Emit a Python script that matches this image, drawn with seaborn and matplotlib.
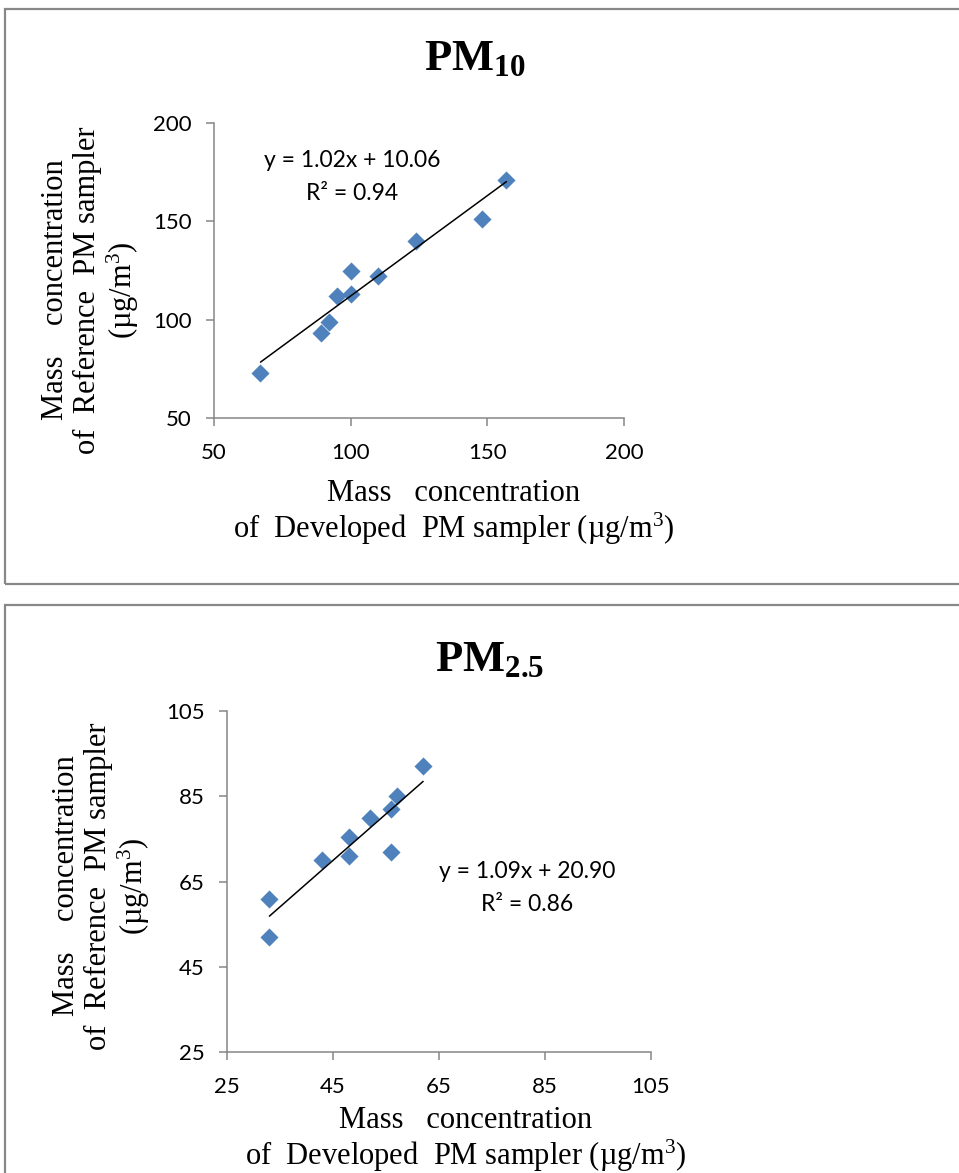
import matplotlib
matplotlib.use("Agg")
import matplotlib.pyplot as plt
from matplotlib.patches import Rectangle
import pandas as pd
import seaborn as sns

# PM10: developed sampler vs reference sampler (ug/m3)
pm10_developed = [67, 89, 92, 95, 100, 100, 110, 124, 148, 157]
pm10_reference = [73, 93, 99, 112, 113, 125, 122, 140, 151, 171]
pm10_slope, pm10_intercept, pm10_r2 = 1.02, 10.06, 0.94
pm10_ticks = [50, 100, 150, 200]

# PM2.5: developed sampler vs reference sampler (ug/m3)
pm25_developed = [33, 33, 43, 48, 48, 52, 56, 57, 56, 62]
pm25_reference = [61, 52, 70, 75.4, 71, 80, 82, 85, 72, 92]
pm25_slope, pm25_intercept, pm25_r2 = 1.09, 20.90, 0.86
pm25_ticks = [25, 45, 65, 85, 105]

W, H = 959, 1173
BLUE = "#4F81BD"
GREY = "#868686"
SERIF = "Liberation Serif"
SANS = "Lato"


def fx(x):
    return x / W


def fy(y):
    return 1 - y / H


def draw_panel(fig, box, developed, reference, slope, intercept, r2, ticks,
               title, title_xy, eq_xy, ylab_xy, xlab_xy):
    left, top, right, bottom = box
    ax = fig.add_axes([fx(left), fy(bottom), (right - left) / W, (bottom - top) / H])

    df = pd.DataFrame({"Developed": developed, "Reference": reference})
    sns.scatterplot(data=df, x="Developed", y="Reference", marker="D", s=85,
                    color=BLUE, linewidth=0, ax=ax, zorder=3)

    # linear trend line over the range of the data
    xs = [min(developed), max(developed)]
    ax.plot(xs, [slope * x + intercept for x in xs], color="black", lw=1.1, zorder=4)

    ax.set_xlim(ticks[0], ticks[-1])
    ax.set_ylim(ticks[0], ticks[-1])
    ax.set_xticks(ticks)
    ax.set_yticks(ticks)
    ax.set_xlabel("")
    ax.set_ylabel("")
    ax.grid(False)
    for side in ["top", "right"]:
        ax.spines[side].set_visible(False)
    for side in ["left", "bottom"]:
        ax.spines[side].set_color(GREY)
        ax.spines[side].set_linewidth(1.1)
    ax.tick_params(axis="both", direction="out", length=6, width=1.1, color=GREY,
                   labelsize=16, labelcolor="black", bottom=True, left=True)
    ax.tick_params(axis="y", pad=10)
    ax.tick_params(axis="x", pad=12)
    for lab in ax.get_xticklabels() + ax.get_yticklabels():
        lab.set_fontfamily(SANS)

    # equation of the trend line
    fig.text(fx(eq_xy[0]), fy(eq_xy[1]),
             f"y = {slope:.2f}x + {intercept:.2f}\nR\u00b2 = {r2:.2f}",
             ha="center", va="center", multialignment="center",
             fontsize=16.5, family=SANS, linespacing=1.7, color="black")

    fig.text(fx(title_xy[0]), fy(title_xy[1]), title, ha="center", va="baseline",
             fontsize=32, color="black")

    fig.text(fx(ylab_xy[0]), fy(ylab_xy[1]),
             "Mass    concentration\nof  Reference  PM sampler\n(\u00b5g/m$^{3}$)",
             rotation=90, ha="center", va="center", multialignment="center",
             fontsize=22, family=SERIF, linespacing=1.12, color="black")

    fig.text(fx(xlab_xy[0]), fy(xlab_xy[1]),
             "Mass   concentration\nof  Developed  PM sampler (\u00b5g/m$^{3}$)",
             ha="center", va="center", multialignment="center",
             fontsize=22, family=SERIF, linespacing=1.12, color="black")
    return ax


def main():
    sns.set_theme(style="white")
    plt.rcParams["font.family"] = [SERIF, "DejaVu Sans"]
    plt.rcParams["text.color"] = "black"
    plt.rcParams["mathtext.fontset"] = "custom"
    plt.rcParams["mathtext.rm"] = SERIF
    plt.rcParams["mathtext.it"] = SERIF + ":italic"
    plt.rcParams["mathtext.bf"] = SERIF + ":bold"

    fig = plt.figure(figsize=(W / 100, H / 100), dpi=100)

    # chart area borders
    fig.patches.append(Rectangle((fx(5), fy(584)), 1.2, (584 - 9) / H, transform=fig.transFigure,
                                 fill=False, edgecolor="#888888", lw=1.6))
    fig.patches.append(Rectangle((fx(5), -0.2), 1.2, fy(605) + 0.2, transform=fig.transFigure,
                                 fill=False, edgecolor="#888888", lw=1.6))

    draw_panel(fig, (214, 123, 624, 418), pm10_developed, pm10_reference,
               pm10_slope, pm10_intercept, pm10_r2, pm10_ticks,
               r"$\mathbf{PM_{10}}$", (475, 70), (352, 177), (91, 290), (454, 513))

    draw_panel(fig, (227, 711, 651, 1052), pm25_developed, pm25_reference,
               pm25_slope, pm25_intercept, pm25_r2, pm25_ticks,
               r"$\mathbf{PM_{2.5}}$", (490, 671), (527, 888), (102, 886), (466, 1140))

    fig.savefig("out.png", dpi=100)


if __name__ == "__main__":
    main()
